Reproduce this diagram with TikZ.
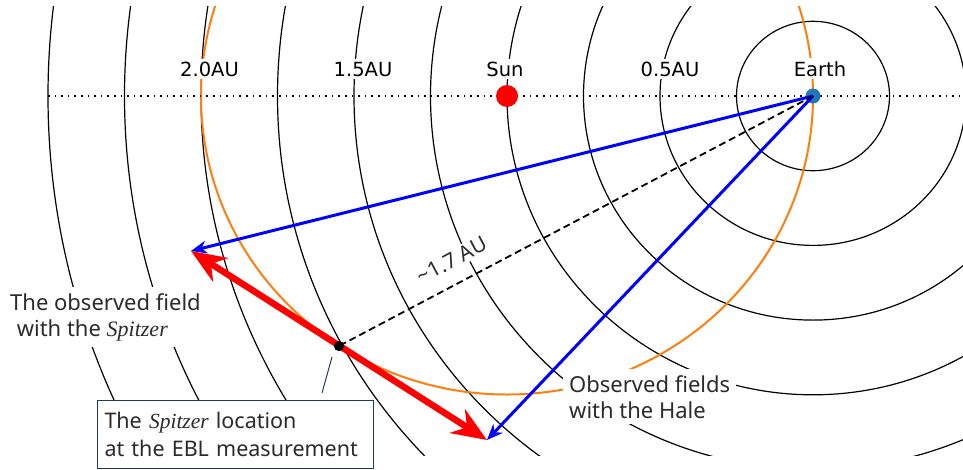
\documentclass[tikz,border=0pt]{standalone}
\usepackage{fontspec}
\setmainfont{Noto Sans}
\newfontfamily\axisfont{DejaVu Sans}
\newfontfamily\spzfont{Liberation Serif}
\usepackage{tikz}
\usepackage{xcolor}
\usetikzlibrary{arrows.meta, positioning}
\definecolor{Hale_Blue}{HTML}{0000FF}
\definecolor{Orbit_Orange}{HTML}{FF7F0E}
\definecolor{Earth_Blue}{HTML}{1F77B4}
\definecolor{Box_Navy}{HTML}{203864}
\definecolor{Text_Gray}{HTML}{2B2B2B}
\newcommand{\spz}{{\spzfont\itshape Spitzer}}

\begin{document}
\begin{tikzpicture}[x=1pt, y=-1pt,
  ring/.style={line width=1.2pt, black},
  orbit/.style={line width=2pt, Orbit_Orange},
  axisline/.style={line width=1.3pt, dash pattern=on 1.6pt off 5pt},
  axislbl/.style={font=\axisfont\fontsize{19.5}{22}\selectfont, fill=white, inner sep=3pt, anchor=base},
  notelbl/.style={font=\fontsize{22}{26}\selectfont, text=Text_Gray, fill=white, align=left, inner sep=6pt},
  fieldarrow/.style={line width=3pt, Hale_Blue, -{Stealth[length=16pt, width=13pt]}},
  movearrow/.style={line width=6.5pt, red, {Stealth[length=35pt, width=28pt]}-{Stealth[length=35pt, width=28pt]}},
]
\useasboundingbox (0,0) rectangle (963,469);

% --- orbits round the Earth ---
\coordinate (earthpos) at (813,96);
\coordinate (sunpos) at (507,96);
\begin{scope}
  \clip (0,6) rectangle (963,455);
  \foreach \k in {1,...,10}
  {
    \draw[ring] (earthpos) ellipse [x radius={\k*76.5pt}, y radius={\k*74.7pt}];
  }
  \draw[orbit] (sunpos) ellipse [x radius=306pt, y radius=298.5pt];
\end{scope}

% --- distance axis ---
\coordinate (axisL) at (48,96);
\coordinate (axisR) at (963,96);
\draw[axisline] (axisL) -- (axisR);
\node[axislbl] (lbltwo) at (209.5,76) {2.0AU};
\node[axislbl] (lblonefive) at (363,76) {1.5AU};
\node[axislbl] (lblsun) at (505,76) {Sun};
\node[axislbl] (lblhalf) at (670,76) {0.5AU};
\node[axislbl] (lblearth) at (820,76) {Earth};

\node[circle, fill=red, minimum size=22pt, inner sep=0pt] (sun) at (sunpos) {};
\node[circle, fill=Earth_Blue, minimum size=15pt, inner sep=0pt] (earth) at (earthpos) {};

% --- fields and Spitzer ---
\coordinate (spfield) at (191,251);
\coordinate (halefield) at (487,440);
\node[circle, fill=black, minimum size=10pt, inner sep=0pt] (spitzer) at (339,346) {};

\draw[fieldarrow] (earth.center) -- (spfield);
\draw[fieldarrow] (earth.center) -- (halefield);
\draw[line width=1.8pt, dash pattern=on 7pt off 4pt] (earth.center) -- (spitzer.center);
\draw[movearrow] (spfield) -- (halefield);
\node[circle, fill=black, minimum size=10pt, inner sep=0pt] at (spitzer) {};

\node[font=\fontsize{21}{24}\selectfont, text=Text_Gray, fill=white, inner sep=2pt, rotate=28] (dist) at (452,260) {\textasciitilde1.7 AU};

% --- notes ---
\node[notelbl, anchor=north west] (spnote) at (4,287) {The observed field\\\hspace*{0.3em}with the \spz};
\node[notelbl, anchor=north west] (halenote) at (563,369) {Observed fields\\with the Hale};
\node[notelbl, draw=Box_Navy, line width=1pt, anchor=north west, text width=262pt, inner xsep=7pt, inner ysep=10pt, minimum height=68pt, font=\fontsize{21.5}{28}\selectfont] (locbox) at (97,400) {The \spz{} location\\at the EBL measurement};

\coordinate (calltip) at (332,357);
\coordinate (callfoot) at (322,393);
\draw[Box_Navy, line width=1pt] (calltip) -- (callfoot);

\end{tikzpicture}
\end{document}
